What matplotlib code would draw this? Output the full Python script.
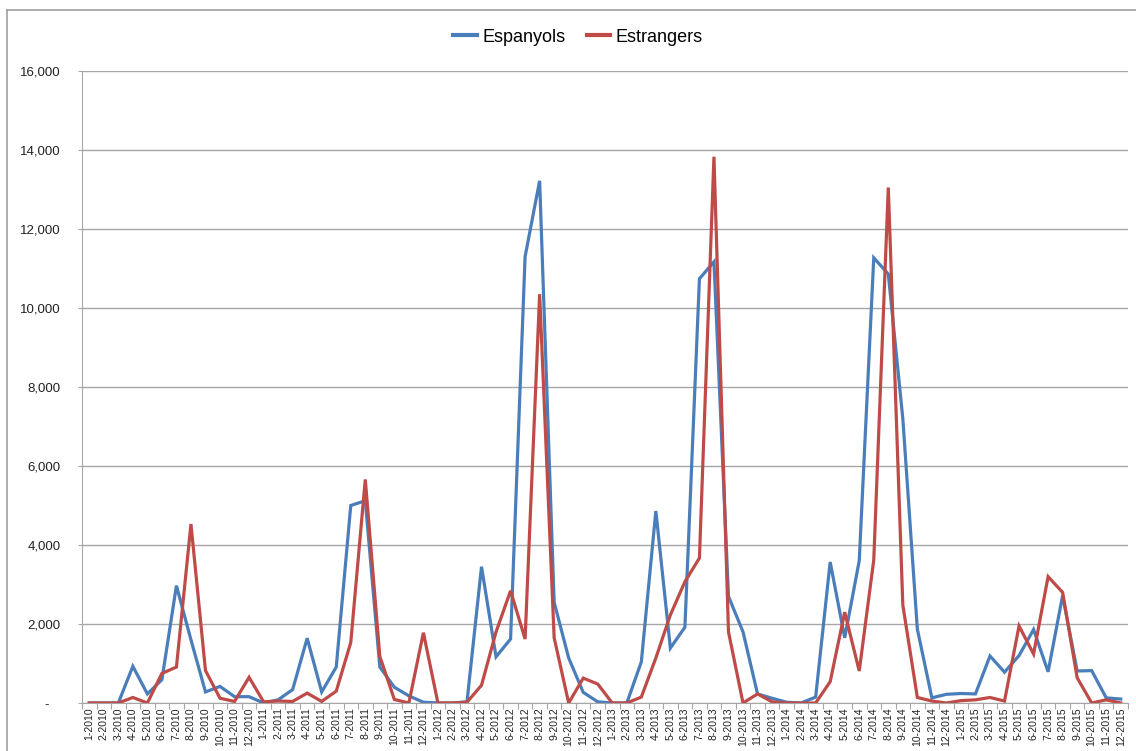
import matplotlib
matplotlib.use("Agg")
import matplotlib.pyplot as plt
from matplotlib.ticker import FuncFormatter, FixedLocator
import numpy as np

months = [f"{m}-{y}" for y in range(2010, 2016) for m in range(1, 13)]

espanyols = [
    0, 0, 0, 930, 230, 590, 2970, 1600, 280, 420, 160, 160,
    0, 80, 340, 1640, 280, 910, 5000, 5120, 910, 400, 180, 20,
    0, 0, 30, 3450, 1170, 1620, 11300, 13220, 2550, 1140, 270, 30,
    0, 0, 1040, 4860, 1390, 1920, 10740, 11170, 2700, 1800, 230, 120,
    20, 0, 150, 3570, 1650, 3600, 11270, 10860, 7200, 1870, 130, 220,
    240, 230, 1190, 780, 1200, 1860, 790, 2720, 810, 820, 130, 100,
]
estrangers = [
    0, 0, 0, 140, 0, 750, 910, 4530, 820, 120, 40, 650,
    30, 50, 40, 250, 40, 300, 1530, 5660, 1180, 90, 0, 1780,
    0, 0, 20, 450, 1800, 2840, 1620, 10350, 1650, 0, 630, 480,
    0, 0, 150, 1140, 2230, 3070, 3670, 13830, 1800, 0, 230, 30,
    0, 0, 0, 540, 2300, 810, 3620, 13050, 2480, 140, 50, 0,
    60, 80, 140, 50, 1950, 1240, 3200, 2800, 640, 0, 80, 0,
]

W, H = 1136, 751
fig = plt.figure(figsize=(W / 100, H / 100), dpi=100)
ax = fig.add_axes([82 / W, 1 - 703 / H, (1128 - 82) / W, (703 - 71) / H])

x = np.arange(len(months))
ax.plot(x, espanyols, color="#4A7EBB", lw=2.3, label="Espanyols", solid_joinstyle="miter")
ax.plot(x, estrangers, color="#BE4B48", lw=2.3, label="Estrangers", solid_joinstyle="miter")

ax.set_xlim(-0.5, len(months) - 0.5)
ax.set_ylim(0, 16000)
ax.set_yticks(np.arange(0, 16001, 2000))
ax.yaxis.set_major_formatter(FuncFormatter(lambda v, p: "-   " if v == 0 else f"{int(v):,}"))
ax.grid(axis="y", color="#A6A6A6", lw=1.0)
ax.set_axisbelow(True)

ax.xaxis.set_major_locator(FixedLocator(np.arange(-0.5, len(months), 1.0)))
ax.xaxis.set_minor_locator(FixedLocator(x))
ax.set_xticklabels([], minor=False)
ax.set_xticks(x, minor=True)
ax.set_xticklabels(months, minor=True, rotation=90, fontsize=7.5, family="Liberation Sans")
ax.tick_params(axis="x", which="major", length=4, color="#A6A6A6", direction="out")
ax.tick_params(axis="x", which="minor", length=0, pad=3)
ax.tick_params(axis="y", length=3, color="#A6A6A6", labelsize=9.5, pad=12.5)
for lab in ax.get_yticklabels():
    lab.set_family("Liberation Sans")
    lab.set_color("#222222")
for lab in ax.get_xticklabels(minor=True):
    lab.set_color("#222222")

for s in ["top", "right"]:
    ax.spines[s].set_visible(False)
ax.spines["left"].set_color("#A6A6A6")
ax.spines["bottom"].set_color("#A6A6A6")

leg = fig.legend(loc="center", bbox_to_anchor=(578 / W, 1 - 37 / H), ncol=2, frameon=False,
                 prop={"family": "Liberation Sans", "size": 13}, handlelength=1.3,
                 columnspacing=1.2, handletextpad=0.3)
for line in leg.get_lines():
    line.set_linewidth(3)

# chart-area border
fig.add_artist(plt.Line2D([7 / W, 1], [1 - 10 / H, 1 - 10 / H], color="#A0A0A0", lw=1.2,
                          transform=fig.transFigure))
fig.add_artist(plt.Line2D([7 / W, 7 / W], [0, 1 - 10 / H], color="#A0A0A0", lw=1.2,
                          transform=fig.transFigure))

fig.savefig("out.png", dpi=100)
